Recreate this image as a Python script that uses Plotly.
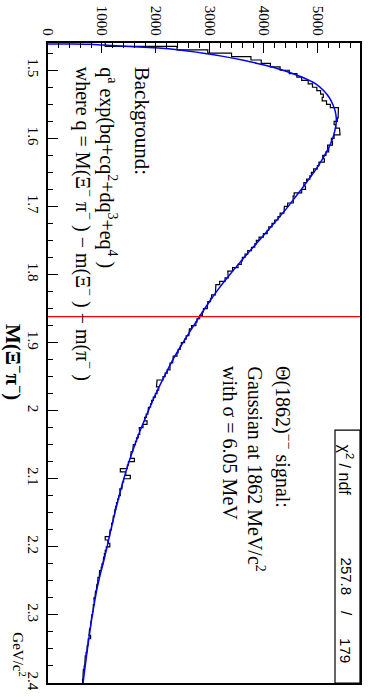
import plotly.graph_objects as go

# Xi- pi- invariant mass spectrum, 5 MeV bins from 1.46 to 2.40 GeV/c^2
MASS_LOW = 1.46
BIN_WIDTH = 0.005
counts = [
    1060, 2390, 2960, 3400, 3760, 3950, 4120, 4300, 4470, 4610,
    4700, 4820, 4900, 4980, 5050, 5100, 5080, 5160, 5230, 5380,
    5370, 5375, 5360, 5300, 5330, 5400, 5410, 5300, 5250, 5270,
    5180, 5200, 5150, 5090, 5120, 5020, 4990, 4920, 4880, 4850,
    4790, 4740, 4770, 4700, 4560, 4540, 4545, 4440, 4380, 4370,
    4300, 4260, 4200, 4150, 4090, 4060, 3990, 3910, 3860, 3830,
    3770, 3700, 3650, 3600, 3580, 3520, 3420, 3330, 3340, 3280,
    3180, 3110, 3110, 3100, 3030, 3010, 2960, 2950, 2880, 2860,
    2810, 2760, 2740, 2660, 2620, 2610, 2560, 2530, 2470, 2450,
    2410, 2390, 2320, 2310, 2260, 2260, 2210, 2170, 2130, 2020,
    2010, 2050, 2020, 1990, 1950, 1920, 1900, 1860, 1850, 1820,
    1790, 1835, 1760, 1690, 1700, 1670, 1640, 1620, 1580, 1570,
    1540, 1530, 1600, 1490, 1470, 1340, 1440, 1525, 1400, 1380,
    1370, 1330, 1340, 1310, 1290, 1270, 1255, 1240, 1230, 1210,
    1200, 1180, 1175, 1150, 1140, 1060, 1110, 1145, 1080, 1060,
    1045, 1030, 1020, 1000, 985, 955, 950, 925, 920, 905,
    895, 880, 870, 850, 860, 840, 835, 825, 810, 800,
    795, 785, 770, 760, 790, 745, 740, 725, 720, 705,
    690, 690, 680, 670, 655, 650, 645, 640,
]

# Fitted background shape (evaluated points)
fit_mass = [
    1.4613, 1.4615, 1.462, 1.463, 1.465, 1.4675, 1.47, 1.475, 1.48, 1.485,
    1.49, 1.495, 1.50, 1.51, 1.52, 1.53, 1.54, 1.55, 1.56, 1.57,
    1.58, 1.59, 1.60, 1.61, 1.62, 1.63, 1.64, 1.65, 1.66, 1.67,
    1.68, 1.69, 1.70, 1.72, 1.74, 1.76, 1.78, 1.80, 1.82, 1.84,
    1.86, 1.88, 1.90, 1.92, 1.94, 1.96, 1.98, 2.00, 2.02, 2.04,
    2.06, 2.08, 2.10, 2.12, 2.14, 2.16, 2.18, 2.20, 2.22, 2.24,
    2.26, 2.28, 2.30, 2.32, 2.34, 2.36, 2.38, 2.40,
]
fit_counts = [
    0, 450, 800, 1000, 1500, 2050, 2400, 2880, 3270, 3600,
    3880, 4130, 4350, 4700, 4960, 5110, 5210, 5275, 5320, 5340,
    5335, 5310, 5275, 5225, 5160, 5090, 5010, 4925, 4835, 4740,
    4645, 4545, 4450, 4240, 4020, 3800, 3580, 3370, 3170, 2990,
    2820, 2660, 2500, 2350, 2215, 2090, 1970, 1860, 1755, 1655,
    1565, 1480, 1405, 1335, 1270, 1210, 1150, 1095, 1035, 970,
    912, 865, 822, 783, 748, 714, 681, 650,
]

# Axis ticks
count_ticks = [0, 1000, 2000, 3000, 4000, 5000]
count_tick_labels = ["0", "1000", "2000", "3000", "4000", "5000"]
mass_ticks = [1.5, 1.6, 1.7, 1.8, 1.9, 2.0, 2.1, 2.2, 2.3, 2.4]
mass_tick_labels = ["1.5", "1.6", "1.7", "1.8", "1.9", "2", "2.1", "2.2", "2.3", "2.4"]

SIGNAL_MASS = 1.862
X_MAX = 5780
MASS_MIN, MASS_MAX = 1.46, 2.40

# Step outline of the histogram: vertical segment per bin, joined at edges
step_x, step_y = [], []
for i, c in enumerate(counts):
    lo = MASS_LOW + i * BIN_WIDTH
    hi = lo + BIN_WIDTH
    step_x += [c, c]
    step_y += [lo, hi]

fig = go.Figure()
fig.add_trace(go.Scatter(x=step_x, y=step_y, mode="lines",
                         line=dict(color="black", width=1.2),
                         hoverinfo="skip", showlegend=False))
fig.add_trace(go.Scatter(x=fit_counts, y=fit_mass, mode="lines",
                         line=dict(color="#0000ff", width=1.5, shape="spline", smoothing=0.6),
                         hoverinfo="skip", showlegend=False))

# Signal position marker
fig.add_shape(type="line", xref="paper", x0=0, x1=1, yref="y",
              y0=SIGNAL_MASS, y1=SIGNAL_MASS,
              line=dict(color="#ff0000", width=1.2), layer="above")

# Frame edges in page pixels, used to place the text blocks
L, R, T, B = 48, 360, 43, 691
def px(x):
    return (x - L) / (R - L)
def py(y):
    return 1 - (y - T) / (B - T)

# Fit-statistics box
fig.add_shape(type="rect", xref="paper", yref="paper",
              x0=px(335), x1=1, y0=0, y1=py(435),
              line=dict(color="black", width=1.2), fillcolor="white", layer="above")

serif = "Liberation Serif"
sans = "Liberation Sans"
NB = "\u00a0"

def note(text, x, y, size, family=serif, yanchor="top", xanchor="center"):
    fig.add_annotation(text=text, xref="paper", yref="paper", x=px(x), y=py(y),
                       xanchor=xanchor, yanchor=yanchor, textangle=90,
                       showarrow=False, font=dict(family=family, size=size, color="black"))

note("Background:", 142, 65, 21)
note("q<sup>a</sup> exp(bq+cq<sup>2</sup>+dq<sup>3</sup>+eq<sup>4</sup>" + NB + ")", 108, 65, 20)
note("where q = M(Ξ<sup>−</sup>" + NB + "π<sup>−</sup>" + NB + ") − m(Ξ<sup>−</sup>" + NB + ") − m(π<sup>−</sup>" + NB + ")",
     84, 65, 20)
note("Θ(1862)<sup>−−</sup>" + NB + "signal:", 283, 368, 20)
note("Gaussian at 1862 MeV/c<sup>2</sup>", 256, 368, 20)
note("with σ = 6.05 MeV", 230, 368, 20)
note("χ<sup>2</sup> / ndf", 346, 447, 16, family=sans)
note("257.8", 346, 562, 15, family=sans)
note("/", 346, 620, 15, family=sans, yanchor="middle")
note("179", 346, 643, 15, family=sans)
note("<b>M(Ξ<sup>−</sup>π<sup>−</sup>)</b>", 15, 366, 21, yanchor="middle")
note("GeV/c<sup>2</sup>", 19, 662, 15, yanchor="middle")

fig.update_layout(
    width=374, height=697,
    margin=dict(l=L, r=374 - R, t=T, b=697 - B),
    paper_bgcolor="white", plot_bgcolor="white",
    xaxis=dict(range=[0, X_MAX], side="top", showgrid=False, zeroline=False,
               showline=True, mirror=True, linecolor="black", linewidth=2,
               ticks="inside", ticklen=10, tickwidth=1, tickcolor="black",
               tickmode="array", tickvals=count_ticks, ticktext=count_tick_labels,
               tickangle=90,
               tickfont=dict(family=serif, size=15, color="black"),
               minor=dict(ticks="inside", ticklen=5, dtick=200, tick0=0, tickcolor="black")),
    yaxis=dict(range=[MASS_MAX, MASS_MIN], showgrid=False, zeroline=False,
               showline=True, mirror=True, linecolor="black", linewidth=2,
               ticks="inside", ticklen=10, tickwidth=1, tickcolor="black",
               tickmode="array", tickvals=mass_ticks, ticktext=mass_tick_labels,
               tickangle=90,
               tickfont=dict(family=serif, size=15, color="black"),
               minor=dict(ticks="inside", ticklen=5, dtick=0.025, tick0=1.5, tickcolor="black")),
)

fig.write_html("out.html")
